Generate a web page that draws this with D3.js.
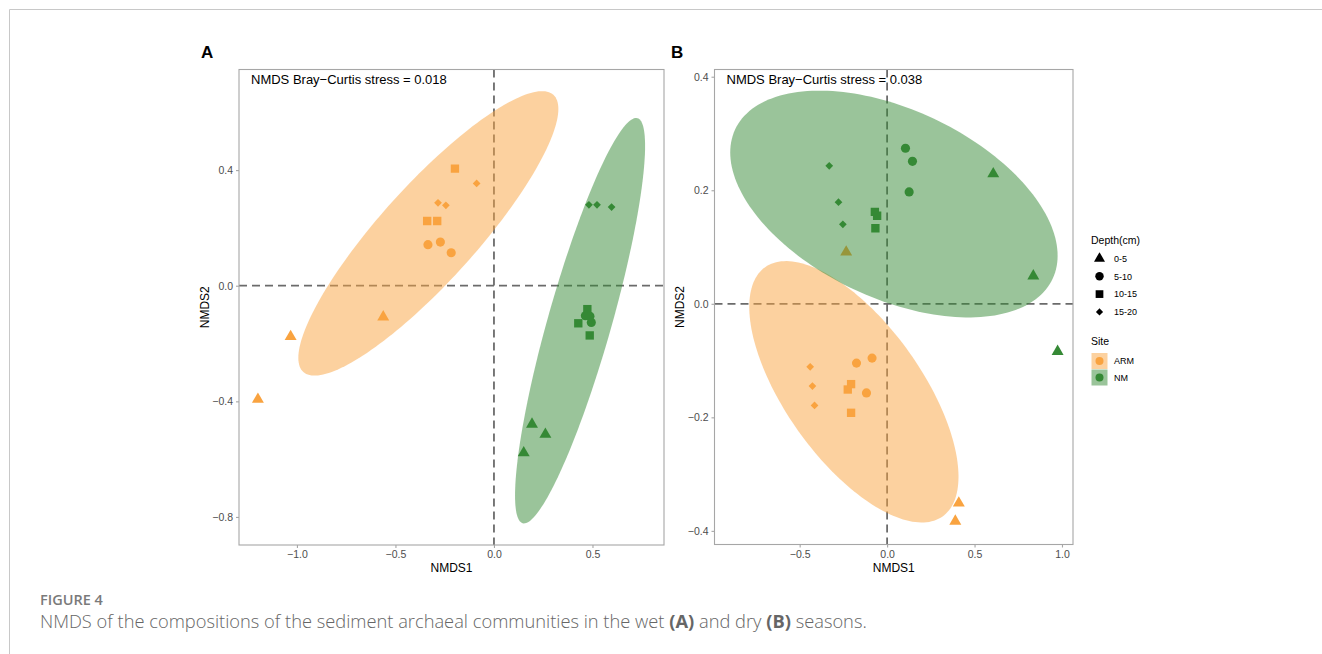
<!DOCTYPE html>
<html>
<head>
<meta charset="utf-8">
<script src="https://cdn.jsdelivr.net/npm/d3@7"></script>
<style>
  html, body { margin: 0; padding: 0; background: #fff; }
  svg .plottext text, svg text.plottext { font-family: "Liberation Sans", Arial, sans-serif; }
</style>
</head>
<body>
<svg id="fig" width="1322" height="654"></svg>
<script>
// ---- data -------------------------------------------------------------
const depths = ["0-5", "5-10", "10-15", "15-20"];
const sites = ["ARM", "NM"];

// Wet season (panel A): NMDS1, NMDS2 per sample
const wetSite  = ["ARM","ARM","ARM","ARM","ARM","ARM","ARM","ARM","ARM","ARM","ARM","ARM",
                  "NM","NM","NM","NM","NM","NM","NM","NM","NM","NM","NM","NM"];
const wetDepth = ["10-15","15-20","15-20","15-20","10-15","10-15","5-10","5-10","5-10","0-5","0-5","0-5",
                  "15-20","15-20","15-20","10-15","5-10","5-10","5-10","10-15","10-15","0-5","0-5","0-5"];
const wetNMDS1 = [-0.198,-0.088,-0.284,-0.244,-0.339,-0.288,-0.335,-0.272,-0.217,-0.562,-1.032,-1.198,
                  0.482,0.523,0.597,0.474,0.464,0.487,0.494,0.428,0.486,0.193,0.261,0.151];
const wetNMDS2 = [0.405,0.354,0.287,0.278,0.224,0.224,0.142,0.151,0.114,-0.108,-0.176,-0.393,
                  0.280,0.280,0.272,-0.081,-0.104,-0.106,-0.127,-0.130,-0.172,-0.479,-0.514,-0.578];

// Dry season (panel B)
const drySite  = ["ARM","ARM","ARM","ARM","ARM","ARM","ARM","ARM","ARM","ARM","ARM","ARM",
                  "NM","NM","NM","NM","NM","NM","NM","NM","NM","NM","NM","NM"];
const dryDepth = ["5-10","5-10","5-10","10-15","10-15","10-15","15-20","15-20","15-20","0-5","0-5","0-5",
                  "5-10","5-10","5-10","0-5","0-5","0-5","15-20","15-20","15-20","10-15","10-15","10-15"];
const dryNMDS1 = [-0.175,-0.086,-0.118,-0.206,-0.225,-0.206,-0.440,-0.427,-0.415,0.410,0.390,-0.234,
                  0.105,0.145,0.126,0.607,0.836,0.975,-0.331,-0.278,-0.253,-0.070,-0.057,-0.067];
const dryNMDS2 = [-0.1045,-0.0957,-0.157,-0.1415,-0.151,-0.192,-0.111,-0.145,-0.179,-0.351,-0.383,0.091,
                  0.274,0.251,0.197,0.229,0.049,-0.084,0.243,0.179,0.140,0.162,0.155,0.133];

// 95% confidence ellipses: centre and shape matrix [sxx, sxy, syy] per site
const wetEllipseCenter = { ARM: [-0.333, 0.181], NM: [0.437, -0.121] };
const wetEllipseShape  = { ARM: [0.4355, 0.2841, 0.2421], NM: [0.1089, 0.1994, 0.4919] };
const dryEllipseCenter = { ARM: [-0.190, -0.155], NM: [0.039, 0.1757] };
const dryEllipseShape  = { ARM: [0.3579, -0.0894, 0.0530], NM: [0.8761, -0.0851, 0.0399] };

const wetStress = "0.018";
const dryStress = "0.038";

const wetXTicks = [-1.0, -0.5, 0.0, 0.5];
const wetYTicks = [-0.8, -0.4, 0.0, 0.4];
const dryXTicks = [-0.5, 0.0, 0.5, 1.0];
const dryYTicks = [-0.4, -0.2, 0.0, 0.2, 0.4];

// ---- styling ------------------------------------------------------------
const siteColor = { ARM: "#F9A340", NM: "#358935" };
const ellipseOpacity = 0.5;

// filled diamond with equal diagonals (R pch 18 style)
const symbolSquareDiamond = {
  draw(context, size) {
    const h = Math.sqrt(size / 2);
    context.moveTo(0, -h);
    context.lineTo(h, 0);
    context.lineTo(0, h);
    context.lineTo(-h, 0);
    context.closePath();
  }
};
const symbolType = {
  "0-5": d3.symbolTriangle, "5-10": d3.symbolCircle,
  "10-15": d3.symbolSquare, "15-20": symbolSquareDiamond
};
const symbolSize = { "0-5": 62, "5-10": 66, "10-15": 70, "15-20": 30 };

const svg = d3.select("#fig");

// page frame
svg.append("line").attr("x1", 9.5).attr("y1", 9.5).attr("x2", 1322).attr("y2", 9.5)
  .attr("stroke", "#c8c8c8").attr("stroke-width", 1);
svg.append("line").attr("x1", 9.5).attr("y1", 9.5).attr("x2", 9.5).attr("y2", 654)
  .attr("stroke", "#c8c8c8").attr("stroke-width", 1);

const fmt = v => d3.format(".1f")(v).replace("-", "\u2212");

function panel(cfg) {
  const g = svg.append("g").attr("class", "plottext");
  const x = d3.scaleLinear().domain(cfg.xDomain).range([cfg.left, cfg.right]);
  const y = d3.scaleLinear().domain(cfg.yDomain).range([cfg.bottom, cfg.top]);

  const clipId = "clip" + cfg.label;
  svg.append("clipPath").attr("id", clipId).append("rect")
    .attr("x", cfg.left).attr("y", cfg.top)
    .attr("width", cfg.right - cfg.left).attr("height", cfg.bottom - cfg.top);

  const plot = g.append("g").attr("clip-path", `url(#${clipId})`);

  // reference lines at zero
  plot.append("line").attr("x1", x(0)).attr("x2", x(0)).attr("y1", cfg.top).attr("y2", cfg.bottom)
    .attr("stroke", "#6b6b6b").attr("stroke-width", 1.8).attr("stroke-dasharray", "8,5");
  plot.append("line").attr("y1", y(0)).attr("y2", y(0)).attr("x1", cfg.left).attr("x2", cfg.right)
    .attr("stroke", "#6b6b6b").attr("stroke-width", 1.8).attr("stroke-dasharray", "8,5");

  // sample points
  const pts = cfg.n1.map((v, i) => ({ x: v, y: cfg.n2[i], site: cfg.site[i], depth: cfg.depth[i] }));
  plot.selectAll("path.pt").data(pts).enter().append("path")
    .attr("class", "pt")
    .attr("transform", d => `translate(${x(d.x)},${y(d.y)})`)
    .attr("d", d => d3.symbol().type(symbolType[d.depth]).size(symbolSize[d.depth])())
    .attr("fill", d => siteColor[d.site]);

  // confidence ellipses (drawn over the points)
  const line = d3.line().x(p => x(p[0])).y(p => y(p[1]));
  sites.forEach(s => {
    const c = cfg.center[s], m = cfg.shape[s];
    const l11 = Math.sqrt(m[0]);
    const l21 = m[1] / l11;
    const l22 = Math.sqrt(m[2] - l21 * l21);
    const ring = d3.range(0, 361, 2).map(a => {
      const t = a * Math.PI / 180, u = Math.cos(t), v = Math.sin(t);
      return [c[0] + l11 * u, c[1] + l21 * u + l22 * v];
    });
    plot.append("path").attr("d", line(ring) + "Z")
      .attr("fill", siteColor[s]).attr("fill-opacity", ellipseOpacity).attr("stroke", "none");
  });

  // panel border
  g.append("rect").attr("x", cfg.left).attr("y", cfg.top)
    .attr("width", cfg.right - cfg.left).attr("height", cfg.bottom - cfg.top)
    .attr("fill", "none").attr("stroke", "#a6a6a6").attr("stroke-width", 1.1);

  // axes
  const xa = g.append("g").attr("transform", `translate(0,${cfg.bottom})`)
    .call(d3.axisBottom(x).tickValues(cfg.xTicks).tickSize(3).tickPadding(3).tickFormat(fmt));
  const ya = g.append("g").attr("transform", `translate(${cfg.left},0)`)
    .call(d3.axisLeft(y).tickValues(cfg.yTicks).tickSize(3).tickPadding(3).tickFormat(fmt));
  [xa, ya].forEach(a => {
    a.attr("font-family", null);
    a.select(".domain").remove();
    a.selectAll(".tick line").attr("stroke", "#a6a6a6").attr("stroke-width", 1.1);
    a.selectAll(".tick text").attr("fill", "#4d4d4d").attr("font-size", "10.5px");
  });

  // axis titles
  g.append("text").attr("x", (cfg.left + cfg.right) / 2).attr("y", cfg.bottom + 27)
    .attr("text-anchor", "middle").attr("font-size", "12px").attr("fill", "#000").text("NMDS1");
  g.append("text")
    .attr("transform", `translate(${cfg.yTitleX},${(cfg.top + cfg.bottom) / 2}) rotate(-90)`)
    .attr("text-anchor", "middle").attr("font-size", "12px").attr("fill", "#000").text("NMDS2");

  // stress annotation
  g.append("text").attr("x", cfg.left + 12).attr("y", cfg.top + 14)
    .attr("font-size", "13px").attr("fill", "#000")
    .text("NMDS Bray\u2212Curtis stress = " + cfg.stress);

  // panel tag
  g.append("text").attr("x", cfg.tagX).attr("y", 58)
    .attr("font-size", "17px").attr("font-weight", "bold").attr("fill", "#000").text(cfg.label);
}

panel({
  label: "A", tagX: 201, yTitleX: 209,
  left: 239, right: 664, top: 69.5, bottom: 545,
  xDomain: [-1.294, 0.863], yDomain: [-0.897, 0.748],
  xTicks: wetXTicks, yTicks: wetYTicks,
  n1: wetNMDS1, n2: wetNMDS2, site: wetSite, depth: wetDepth,
  center: wetEllipseCenter, shape: wetEllipseShape, stress: wetStress
});

panel({
  label: "B", tagX: 671, yTitleX: 684,
  left: 714.5, right: 1073, top: 69.5, bottom: 544.5,
  xDomain: [-0.987, 1.063], yDomain: [-0.424, 0.4127],
  xTicks: dryXTicks, yTicks: dryYTicks,
  n1: dryNMDS1, n2: dryNMDS2, site: drySite, depth: dryDepth,
  center: dryEllipseCenter, shape: dryEllipseShape, stress: dryStress
});

// ---- legend -------------------------------------------------------------
const leg = svg.append("g").attr("class", "plottext");
leg.append("text").attr("x", 1091).attr("y", 244).attr("font-size", "10.5px").attr("fill", "#000").text("Depth(cm)");
depths.forEach((d, i) => {
  const cy = 258.5 + i * 17.8;
  leg.append("path").attr("transform", `translate(1099.5,${cy})`)
    .attr("d", d3.symbol().type(symbolType[d]).size(symbolSize[d] * 0.85)())
    .attr("fill", "#000");
  leg.append("text").attr("x", 1114).attr("y", cy + 3.2).attr("font-size", "9px").attr("fill", "#000").text(d);
});
leg.append("text").attr("x", 1091).attr("y", 345).attr("font-size", "10.5px").attr("fill", "#000").text("Site");
sites.forEach((s, i) => {
  const top = 353 + i * 16.5;
  leg.append("rect").attr("x", 1091.5).attr("y", top).attr("width", 16).attr("height", 16)
    .attr("fill", siteColor[s]).attr("fill-opacity", ellipseOpacity);
  leg.append("circle").attr("cx", 1099.5).attr("cy", top + 8).attr("r", 4).attr("fill", siteColor[s]);
  leg.append("text").attr("x", 1114).attr("y", top + 11.2).attr("font-size", "9px").attr("fill", "#000").text(s);
});

// ---- caption -------------------------------------------------------------
const cap = svg.append("g").style("font-family", "'Open Sans', sans-serif");
cap.append("text").attr("x", 40).attr("y", 605).attr("font-size", "14.5px")
  .attr("fill", "#7a7a7a").attr("font-weight", 600).text("FIGURE 4");
const capText = cap.append("text").attr("x", 40).attr("y", 628).attr("font-size", "18.3px")
  .attr("fill", "#666666").attr("font-weight", 300);
capText.append("tspan").text("NMDS of the compositions of the sediment archaeal communities in the wet ");
capText.append("tspan").attr("font-weight", "bold").text("(A)");
capText.append("tspan").text(" and dry ");
capText.append("tspan").attr("font-weight", "bold").text("(B)");
capText.append("tspan").text(" seasons.");
</script>
</body>
</html>
